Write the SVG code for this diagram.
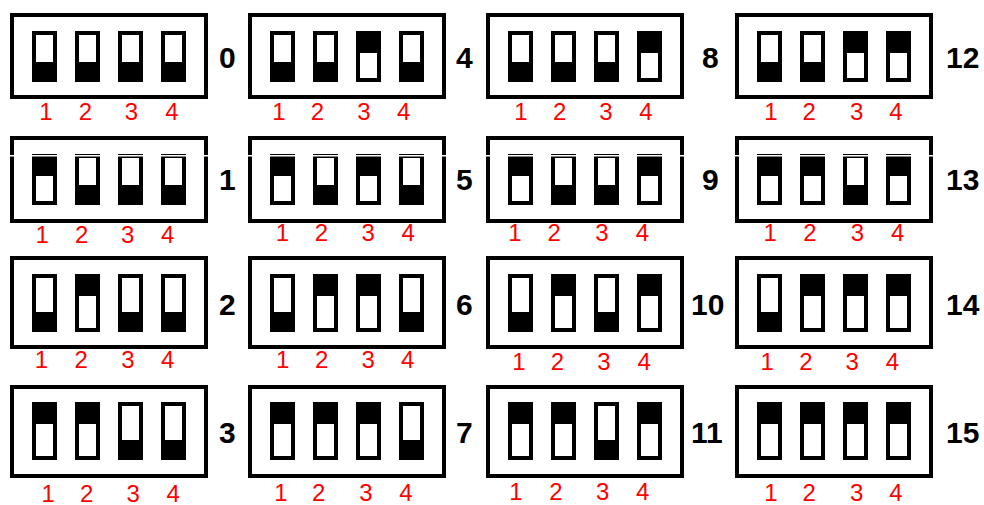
<svg xmlns="http://www.w3.org/2000/svg" xmlns:xlink="http://www.w3.org/1999/xlink" width="984" height="505" viewBox="0 0 984 505">
<style>
.box{fill:#fff;stroke:#000;stroke-width:4}
.sw{fill:#000}
.win{fill:#fff}
.num{font-family:"Liberation Sans",Arial,sans-serif;font-weight:bold;font-size:30px;fill:#000}
.lbl{font-family:"Liberation Sans",Arial,sans-serif;font-size:24px;fill:#f00;text-anchor:middle}
</style>
<defs>
<g id="dn51"><rect class="sw" width="25" height="51"/><rect class="win" x="4" y="4" width="17" height="27"/></g>
<g id="up51"><rect class="sw" width="25" height="51"/><rect class="win" x="4" y="22" width="17" height="25"/></g>
<g id="dn58"><rect class="sw" width="25" height="58"/><rect class="win" x="4" y="4" width="17" height="34"/></g>
<g id="up58"><rect class="sw" width="25" height="58"/><rect class="win" x="4" y="22" width="17" height="32"/></g>
</defs>
<rect width="984" height="505" fill="#fff"/>

<!-- Row 1 -->
<g id="sw0">
<rect class="box" x="12" y="15" width="194" height="82"/>
<use xlink:href="#dn51" x="32" y="31"/><use xlink:href="#dn51" x="75" y="31"/><use xlink:href="#dn51" x="118" y="31"/><use xlink:href="#dn51" x="161" y="31"/>
<text class="num" x="219" y="68">0</text>
<text class="lbl" x="45.9" y="120">1</text><text class="lbl" x="85.5" y="120">2</text><text class="lbl" x="131.5" y="120">3</text><text class="lbl" x="172" y="120">4</text>
</g>
<g id="sw4">
<rect class="box" x="250" y="15" width="194" height="82"/>
<use xlink:href="#dn51" x="270" y="31"/><use xlink:href="#dn51" x="313" y="31"/><use xlink:href="#up51" x="356" y="31"/><use xlink:href="#dn51" x="399" y="31"/>
<text class="num" x="456" y="68">4</text>
<text class="lbl" x="278.9" y="120">1</text><text class="lbl" x="317.5" y="120">2</text><text class="lbl" x="364" y="120">3</text><text class="lbl" x="403.7" y="120">4</text>
</g>
<g id="sw8">
<rect class="box" x="488" y="15" width="194" height="82"/>
<use xlink:href="#dn51" x="508" y="31"/><use xlink:href="#dn51" x="551" y="31"/><use xlink:href="#dn51" x="594" y="31"/><use xlink:href="#up51" x="637" y="31"/>
<text class="num" x="702" y="68">8</text>
<text class="lbl" x="520.9" y="120">1</text><text class="lbl" x="559.7" y="120">2</text><text class="lbl" x="606" y="120">3</text><text class="lbl" x="646" y="120">4</text>
</g>
<g id="sw12">
<rect class="box" x="737" y="15" width="194" height="82"/>
<use xlink:href="#dn51" x="757" y="31"/><use xlink:href="#dn51" x="800" y="31"/><use xlink:href="#up51" x="843" y="31"/><use xlink:href="#up51" x="886" y="31"/>
<text class="num" x="946" y="68">12</text>
<text class="lbl" x="770.9" y="120">1</text><text class="lbl" x="809.3" y="120">2</text><text class="lbl" x="856.7" y="120">3</text><text class="lbl" x="896" y="120">4</text>
</g>

<!-- Row 2 -->
<g id="sw1">
<rect class="box" x="12" y="138" width="194" height="83"/>
<use xlink:href="#up51" x="32" y="154"/><use xlink:href="#dn51" x="75" y="154"/><use xlink:href="#dn51" x="118" y="154"/><use xlink:href="#dn51" x="161" y="154"/>
<text class="num" x="219" y="190">1</text>
<text class="lbl" x="42.2" y="243">1</text><text class="lbl" x="81.7" y="243">2</text><text class="lbl" x="127.7" y="243">3</text><text class="lbl" x="167.8" y="243">4</text>
</g>
<g id="sw5">
<rect class="box" x="250" y="138" width="194" height="83"/>
<use xlink:href="#up51" x="270" y="154"/><use xlink:href="#dn51" x="313" y="154"/><use xlink:href="#up51" x="356" y="154"/><use xlink:href="#dn51" x="399" y="154"/>
<text class="num" x="456" y="190">5</text>
<text class="lbl" x="282.4" y="241">1</text><text class="lbl" x="321.5" y="241">2</text><text class="lbl" x="368.3" y="241">3</text><text class="lbl" x="408.3" y="241">4</text>
</g>
<g id="sw9">
<rect class="box" x="488" y="138" width="194" height="83"/>
<use xlink:href="#up51" x="508" y="154"/><use xlink:href="#dn51" x="551" y="154"/><use xlink:href="#dn51" x="594" y="154"/><use xlink:href="#up51" x="637" y="154"/>
<text class="num" x="702" y="190">9</text>
<text class="lbl" x="515" y="241">1</text><text class="lbl" x="554.3" y="241">2</text><text class="lbl" x="602" y="241">3</text><text class="lbl" x="642.5" y="241">4</text>
</g>
<g id="sw13">
<rect class="box" x="737" y="138" width="194" height="83"/>
<use xlink:href="#up51" x="757" y="154"/><use xlink:href="#up51" x="800" y="154"/><use xlink:href="#dn51" x="843" y="154"/><use xlink:href="#up51" x="886" y="154"/>
<text class="num" x="946" y="190">13</text>
<text class="lbl" x="770.2" y="241">1</text><text class="lbl" x="810" y="241">2</text><text class="lbl" x="857.5" y="241">3</text><text class="lbl" x="897.7" y="241">4</text>
</g>
<rect x="0" y="155" width="984" height="1.5" fill="#fff"/>

<!-- Row 3 -->
<g id="sw2">
<rect class="box" x="12" y="258" width="194" height="89"/>
<use xlink:href="#dn58" x="32" y="274"/><use xlink:href="#up58" x="75" y="274"/><use xlink:href="#dn58" x="118" y="274"/><use xlink:href="#dn58" x="161" y="274"/>
<text class="num" x="219" y="315">2</text>
<text class="lbl" x="41.4" y="368">1</text><text class="lbl" x="81.2" y="368">2</text><text class="lbl" x="128" y="368">3</text><text class="lbl" x="167.8" y="368">4</text>
</g>
<g id="sw6">
<rect class="box" x="250" y="258" width="194" height="89"/>
<use xlink:href="#dn58" x="270" y="274"/><use xlink:href="#up58" x="313" y="274"/><use xlink:href="#up58" x="356" y="274"/><use xlink:href="#dn58" x="399" y="274"/>
<text class="num" x="456" y="315">6</text>
<text class="lbl" x="282.7" y="368">1</text><text class="lbl" x="321.7" y="368">2</text><text class="lbl" x="368.3" y="368">3</text><text class="lbl" x="407.8" y="368">4</text>
</g>
<g id="sw10">
<rect class="box" x="488" y="258" width="194" height="89"/>
<use xlink:href="#dn58" x="508" y="274"/><use xlink:href="#up58" x="551" y="274"/><use xlink:href="#dn58" x="594" y="274"/><use xlink:href="#up58" x="637" y="274"/>
<text class="num" x="691" y="315">10</text>
<text class="lbl" x="518.9" y="370">1</text><text class="lbl" x="557.5" y="370">2</text><text class="lbl" x="604" y="370">3</text><text class="lbl" x="644.2" y="370">4</text>
</g>
<g id="sw14">
<rect class="box" x="737" y="258" width="194" height="89"/>
<use xlink:href="#dn58" x="757" y="274"/><use xlink:href="#up58" x="800" y="274"/><use xlink:href="#up58" x="843" y="274"/><use xlink:href="#up58" x="886" y="274"/>
<text class="num" x="946" y="315">14</text>
<text class="lbl" x="767.2" y="370">1</text><text class="lbl" x="806" y="370">2</text><text class="lbl" x="852.3" y="370">3</text><text class="lbl" x="892.5" y="370">4</text>
</g>

<!-- Row 4 -->
<g id="sw3">
<rect class="box" x="12" y="387" width="194" height="89"/>
<use xlink:href="#up58" x="32" y="402"/><use xlink:href="#up58" x="75" y="402"/><use xlink:href="#dn58" x="118" y="402"/><use xlink:href="#dn58" x="161" y="402"/>
<text class="num" x="219" y="443">3</text>
<text class="lbl" x="48.1" y="501.5">1</text><text class="lbl" x="86.7" y="501.5">2</text><text class="lbl" x="133.3" y="501.5">3</text><text class="lbl" x="173.3" y="501.5">4</text>
</g>
<g id="sw7">
<rect class="box" x="250" y="387" width="194" height="89"/>
<use xlink:href="#up58" x="270" y="402"/><use xlink:href="#up58" x="313" y="402"/><use xlink:href="#up58" x="356" y="402"/><use xlink:href="#dn58" x="399" y="402"/>
<text class="num" x="456" y="443">7</text>
<text class="lbl" x="280.9" y="501">1</text><text class="lbl" x="318.7" y="501">2</text><text class="lbl" x="366" y="501">3</text><text class="lbl" x="406" y="501">4</text>
</g>
<g id="sw11">
<rect class="box" x="488" y="387" width="194" height="89"/>
<use xlink:href="#up58" x="508" y="402"/><use xlink:href="#up58" x="551" y="402"/><use xlink:href="#dn58" x="594" y="402"/><use xlink:href="#up58" x="637" y="402"/>
<text class="num" x="691" y="443">11</text>
<text class="lbl" x="516" y="500">1</text><text class="lbl" x="556" y="500">2</text><text class="lbl" x="602.7" y="500">3</text><text class="lbl" x="642.7" y="500">4</text>
</g>
<g id="sw15">
<rect class="box" x="737" y="387" width="194" height="89"/>
<use xlink:href="#up58" x="757" y="402"/><use xlink:href="#up58" x="800" y="402"/><use xlink:href="#up58" x="843" y="402"/><use xlink:href="#up58" x="886" y="402"/>
<text class="num" x="946" y="443">15</text>
<text class="lbl" x="770.9" y="501">1</text><text class="lbl" x="809.3" y="501">2</text><text class="lbl" x="856.7" y="501">3</text><text class="lbl" x="896" y="501">4</text>
</g>

<g id="connectors"/>
</svg>
